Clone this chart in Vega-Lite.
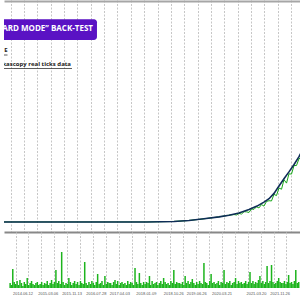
{
"$schema":"https://vega.github.io/schema/vega-lite/v6.json",
"padding":0,
"spacing":0,
"bounds":"flush",
"background":"white",
"datasets":{
"balance":[{"d":"2014-01-20","v":7750},{"d":"2015-06-16","v":7750},{"d":"2016-11-09","v":7750},{"d":"2018-01-23","v":7750},{"d":"2018-10-27","v":8122},{"d":"2019-03-29","v":8874},{"d":"2019-08-30","v":10152},{"d":"2020-01-31","v":11656},{"d":"2020-05-12","v":12934},{"d":"2020-08-22","v":14664},{"d":"2020-12-03","v":17296},{"d":"2021-02-23","v":19928},{"d":"2021-05-05","v":22936},{"d":"2021-06-26","v":25568},{"d":"2021-08-16","v":29704},{"d":"2021-10-06","v":35344},{"d":"2021-11-26","v":40984},{"d":"2022-01-16","v":46248},{"d":"2022-03-09","v":51888},{"d":"2022-04-29","v":57904},{"d":"2022-06-19","v":65424}],
"equity":[{"d":"2014-01-20","v":7750},{"d":"2018-01-23","v":7750},{"d":"2018-10-27","v":8122},{"d":"2019-03-29","v":8874},{"d":"2019-08-30","v":10152},{"d":"2020-01-31","v":11656},{"d":"2020-05-12","v":12934},{"d":"2020-07-02","v":13423},{"d":"2020-07-28","v":13104},{"d":"2020-08-22","v":14288},{"d":"2020-09-17","v":13818},{"d":"2020-10-13","v":15604},{"d":"2020-11-07","v":15510},{"d":"2020-12-03","v":15040},{"d":"2020-12-28","v":17740},{"d":"2021-01-23","v":17439},{"d":"2021-02-18","v":19387},{"d":"2021-03-15","v":18529},{"d":"2021-04-10","v":21109},{"d":"2021-05-05","v":19928},{"d":"2021-05-31","v":23500},{"d":"2021-06-26","v":24064},{"d":"2021-07-21","v":23876},{"d":"2021-08-16","v":28952},{"d":"2021-09-10","v":28012},{"d":"2021-10-06","v":33840},{"d":"2021-11-01","v":32900},{"d":"2021-11-26","v":40232},{"d":"2021-12-22","v":37600},{"d":"2022-01-16","v":44744},{"d":"2022-02-11","v":44556},{"d":"2022-03-09","v":51136},{"d":"2022-04-03","v":51136},{"d":"2022-04-29","v":56400},{"d":"2022-05-24","v":57152},{"d":"2022-06-19","v":64672}],
"load":[
{"d":"2014-02-01","load":5},{"d":"2014-02-16","load":3},{"d":"2014-03-01","load":19},{"d":"2014-03-16","load":6},{"d":"2014-04-01","load":4},{"d":"2014-04-16","load":7},{"d":"2014-05-01","load":3},{"d":"2014-05-16","load":8},{"d":"2014-06-01","load":5},{"d":"2014-06-16","load":2},{"d":"2014-07-01","load":6},{"d":"2014-07-16","load":4},{"d":"2014-08-01","load":10},{"d":"2014-08-16","load":3},{"d":"2014-09-01","load":5},{"d":"2014-09-16","load":7},{"d":"2014-10-01","load":4},{"d":"2014-10-16","load":3},{"d":"2014-11-01","load":5},{"d":"2014-11-16","load":6},{"d":"2014-12-01","load":3},{"d":"2014-12-16","load":4},
{"d":"2015-01-01","load":6},{"d":"2015-01-16","load":3},{"d":"2015-02-01","load":5},{"d":"2015-02-16","load":4},{"d":"2015-03-01","load":7},{"d":"2015-03-16","load":3},{"d":"2015-04-01","load":5},{"d":"2015-04-16","load":8},{"d":"2015-05-01","load":4},{"d":"2015-05-16","load":6},{"d":"2015-06-01","load":18},{"d":"2015-06-16","load":5},{"d":"2015-07-01","load":7},{"d":"2015-07-16","load":4},{"d":"2015-08-01","load":36},{"d":"2015-08-16","load":6},{"d":"2015-09-01","load":3},{"d":"2015-09-16","load":5},{"d":"2015-10-01","load":4},{"d":"2015-10-16","load":10},{"d":"2015-11-01","load":6},{"d":"2015-11-16","load":3},{"d":"2015-12-01","load":5},{"d":"2015-12-16","load":7},
{"d":"2016-01-01","load":4},{"d":"2016-01-16","load":6},{"d":"2016-02-01","load":3},{"d":"2016-02-16","load":7},{"d":"2016-03-01","load":5},{"d":"2016-03-16","load":4},{"d":"2016-04-01","load":26},{"d":"2016-04-16","load":5},{"d":"2016-05-01","load":3},{"d":"2016-05-16","load":6},{"d":"2016-06-01","load":4},{"d":"2016-06-16","load":7},{"d":"2016-07-01","load":5},{"d":"2016-07-16","load":3},{"d":"2016-08-01","load":6},{"d":"2016-08-16","load":14},{"d":"2016-09-01","load":4},{"d":"2016-09-16","load":5},{"d":"2016-10-01","load":7},{"d":"2016-10-16","load":3},{"d":"2016-11-01","load":12},{"d":"2016-11-16","load":4},{"d":"2016-12-01","load":6},{"d":"2016-12-16","load":5},
{"d":"2017-01-01","load":5},{"d":"2017-01-16","load":3},{"d":"2017-02-01","load":6},{"d":"2017-02-16","load":8},{"d":"2017-03-01","load":4},{"d":"2017-03-16","load":7},{"d":"2017-04-01","load":3},{"d":"2017-04-16","load":5},{"d":"2017-05-01","load":6},{"d":"2017-05-16","load":4},{"d":"2017-06-01","load":5},{"d":"2017-06-16","load":3},{"d":"2017-07-01","load":7},{"d":"2017-07-16","load":4},{"d":"2017-08-01","load":6},{"d":"2017-08-16","load":5},{"d":"2017-09-01","load":3},{"d":"2017-09-16","load":20},{"d":"2017-10-01","load":6},{"d":"2017-10-16","load":4},{"d":"2017-11-01","load":15},{"d":"2017-11-16","load":5},{"d":"2017-12-01","load":3},{"d":"2017-12-16","load":6},
{"d":"2018-01-01","load":4},{"d":"2018-01-16","load":6},{"d":"2018-02-01","load":5},{"d":"2018-02-16","load":12},{"d":"2018-03-01","load":3},{"d":"2018-03-16","load":7},{"d":"2018-04-01","load":4},{"d":"2018-04-16","load":5},{"d":"2018-05-01","load":6},{"d":"2018-05-16","load":3},{"d":"2018-06-01","load":5},{"d":"2018-06-16","load":7},{"d":"2018-07-01","load":4},{"d":"2018-07-16","load":10},{"d":"2018-08-01","load":6},{"d":"2018-08-16","load":4},{"d":"2018-09-01","load":5},{"d":"2018-09-16","load":3},{"d":"2018-10-01","load":7},{"d":"2018-10-16","load":5},{"d":"2018-11-01","load":18},{"d":"2018-11-16","load":4},{"d":"2018-12-01","load":6},{"d":"2018-12-16","load":5},
{"d":"2019-01-01","load":5},{"d":"2019-01-16","load":4},{"d":"2019-02-01","load":6},{"d":"2019-02-16","load":3},{"d":"2019-03-01","load":12},{"d":"2019-03-16","load":5},{"d":"2019-04-01","load":7},{"d":"2019-04-16","load":4},{"d":"2019-05-01","load":6},{"d":"2019-05-16","load":9},{"d":"2019-06-01","load":5},{"d":"2019-06-16","load":3},{"d":"2019-07-01","load":6},{"d":"2019-07-16","load":4},{"d":"2019-08-01","load":7},{"d":"2019-08-16","load":5},{"d":"2019-09-01","load":4},{"d":"2019-09-16","load":25},{"d":"2019-10-01","load":6},{"d":"2019-10-16","load":5},{"d":"2019-11-01","load":3},{"d":"2019-11-16","load":7},{"d":"2019-12-01","load":14},{"d":"2019-12-16","load":5},
{"d":"2020-01-01","load":6},{"d":"2020-01-16","load":4},{"d":"2020-02-01","load":5},{"d":"2020-02-16","load":7},{"d":"2020-03-01","load":3},{"d":"2020-03-16","load":6},{"d":"2020-04-01","load":5},{"d":"2020-04-16","load":18},{"d":"2020-05-01","load":4},{"d":"2020-05-16","load":6},{"d":"2020-06-01","load":5},{"d":"2020-06-16","load":7},{"d":"2020-07-01","load":3},{"d":"2020-07-16","load":5},{"d":"2020-08-01","load":6},{"d":"2020-08-16","load":10},{"d":"2020-09-01","load":4},{"d":"2020-09-16","load":7},{"d":"2020-10-01","load":5},{"d":"2020-10-16","load":6},{"d":"2020-11-01","load":4},{"d":"2020-11-16","load":5},{"d":"2020-12-01","load":7},{"d":"2020-12-16","load":4},
{"d":"2021-01-01","load":6},{"d":"2021-01-16","load":16},{"d":"2021-02-01","load":5},{"d":"2021-02-16","load":7},{"d":"2021-03-01","load":4},{"d":"2021-03-16","load":6},{"d":"2021-04-01","load":5},{"d":"2021-04-16","load":8},{"d":"2021-05-01","load":12},{"d":"2021-05-16","load":5},{"d":"2021-06-01","load":7},{"d":"2021-06-16","load":4},{"d":"2021-07-01","load":6},{"d":"2021-07-16","load":22},{"d":"2021-08-01","load":5},{"d":"2021-08-16","load":7},{"d":"2021-09-01","load":23},{"d":"2021-09-16","load":6},{"d":"2021-10-01","load":4},{"d":"2021-10-16","load":5},{"d":"2021-11-01","load":7},{"d":"2021-11-16","load":10},{"d":"2021-12-01","load":6},{"d":"2021-12-16","load":5},
{"d":"2022-01-01","load":5},{"d":"2022-01-16","load":7},{"d":"2022-02-01","load":4},{"d":"2022-02-16","load":6},{"d":"2022-03-01","load":13},{"d":"2022-03-16","load":5},{"d":"2022-04-01","load":6},{"d":"2022-04-16","load":4},{"d":"2022-05-01","load":7},{"d":"2022-05-16","load":18},{"d":"2022-06-01","load":5},{"d":"2022-06-16","load":6}
]
},
"vconcat":[
{
"width":300,"height":232,
"layer":[
{"data":{"name":"equity"},"mark":{"type":"line","color":"#17a817","strokeWidth":1},
"encoding":{
"x":{"field":"d","type":"temporal","scale":{"domain":[{"year":2014,"month":1,"date":20},{"year":2022,"month":6,"date":19}],"nice":false},
"axis":{"orient":"bottom","values":[{"year":2014,"month":3,"date":30},{"year":2014,"month":8,"date":13},{"year":2014,"month":12,"date":28},{"year":2015,"month":5,"date":14},{"year":2015,"month":9,"date":27},{"year":2016,"month":2,"date":11},{"year":2016,"month":6,"date":27},{"year":2016,"month":11,"date":11},{"year":2017,"month":3,"date":27},{"year":2017,"month":8,"date":11},{"year":2017,"month":12,"date":26},{"year":2018,"month":5,"date":11},{"year":2018,"month":9,"date":25},{"year":2019,"month":2,"date":9},{"year":2019,"month":6,"date":25},{"year":2019,"month":11,"date":9},{"year":2020,"month":3,"date":25},{"year":2020,"month":8,"date":8},{"year":2020,"month":12,"date":23},{"year":2021,"month":5,"date":9},{"year":2021,"month":9,"date":22},{"year":2022,"month":2,"date":6}],
"grid":true,"gridColor":"#c6c6c6","gridDash":[2,1.5],"gridWidth":1,"labels":false,"ticks":false,"domain":true,"domainColor":"#888888","domainWidth":2,"title":null}},
"y":{"field":"v","type":"quantitative","scale":{"domain":[0,178462],"nice":false},
"axis":{"tickCount":18,"grid":true,"gridColor":"#d4d4d4","gridWidth":1,"labels":false,"ticks":false,"domain":false,"title":null}}
}},
{"data":{"name":"balance"},"mark":{"type":"line","color":"#0f2d57","strokeWidth":1.6},
"encoding":{
"x":{"field":"d","type":"temporal","axis":{"orient":"top","offset":-1,"labels":false,"ticks":false,"grid":false,"domain":true,"domainColor":"#a6a6a6","domainWidth":2,"title":null}},
"y":{"field":"v","type":"quantitative","axis":null}
}},
{"data":{"values":[{"d":"2013-06-01","d2":"2016-08-29","v":163611,"v2":147689}]},"mark":{"type":"rect","color":"#5a12c4","cornerRadius":3,"clip":true},
"encoding":{
"x":{"field":"d","type":"temporal","axis":null},"x2":{"field":"d2"},
"y":{"field":"v","type":"quantitative","axis":null},"y2":{"field":"v2"}
}},
{"data":{"values":[{"d":"2016-07-19","v":156535,"t":"“HARD MODE” BACK-TEST"}]},"mark":{"type":"text","align":"right","baseline":"middle","font":"Open Sans","fontWeight":"bold","fontSize":8,"color":"#ffffff","clip":true},
"encoding":{"x":{"field":"d","type":"temporal","axis":null},"y":{"field":"v","type":"quantitative","axis":null},"text":{"field":"t"}}},
{"data":{"values":[{"d":"2014-02-25","v":139997,"t":"E"},{"d":"2015-12-07","v":129228,"t":"Dukascopy real ticks data"}]},"mark":{"type":"text","align":"right","baseline":"middle","font":"Open Sans","fontWeight":"bold","fontSize":6,"color":"#222222","clip":true},
"encoding":{"x":{"field":"d","type":"temporal","axis":null},"y":{"field":"v","type":"quantitative","axis":null},"text":{"field":"t"}}},
{"data":{"values":[{"d":"2013-06-01","d2":"2014-02-25","v":136147},{"d":"2013-06-01","d2":"2015-12-17","v":125766}]},"mark":{"type":"rule","color":"#333333","strokeWidth":0.8,"clip":true},
"encoding":{"x":{"field":"d","type":"temporal","axis":null},"x2":{"field":"d2"},"y":{"field":"v","type":"quantitative","axis":null}}}
],
"resolve":{"axis":{"x":"independent"}}
},
{
"width":300,"height":56,
"layer":[
{"data":{"name":"load"},"mark":{"type":"bar","color":"#1db41d","size":1.5},
"encoding":{
"x":{"field":"d","type":"temporal","scale":{"domain":[{"year":2014,"month":1,"date":20},{"year":2022,"month":6,"date":19}],"nice":false},
"axis":{"orient":"bottom","values":[{"year":2014,"month":3,"date":30},{"year":2014,"month":8,"date":13},{"year":2014,"month":12,"date":28},{"year":2015,"month":5,"date":14},{"year":2015,"month":9,"date":27},{"year":2016,"month":2,"date":11},{"year":2016,"month":6,"date":27},{"year":2016,"month":11,"date":11},{"year":2017,"month":3,"date":27},{"year":2017,"month":8,"date":11},{"year":2017,"month":12,"date":26},{"year":2018,"month":5,"date":11},{"year":2018,"month":9,"date":25},{"year":2019,"month":2,"date":9},{"year":2019,"month":6,"date":25},{"year":2019,"month":11,"date":9},{"year":2020,"month":3,"date":25},{"year":2020,"month":8,"date":8},{"year":2020,"month":12,"date":23},{"year":2021,"month":5,"date":9},{"year":2021,"month":9,"date":22},{"year":2022,"month":2,"date":6}],
"grid":true,"gridColor":"#c6c6c6","gridDash":[2,1.5],"gridWidth":1,"labels":false,"ticks":false,"domain":false,"title":null}},
"y":{"field":"load","type":"quantitative","scale":{"domain":[0,56],"nice":false},
"axis":{"values":[3,16,29,42],"grid":true,"gridColor":"#d4d4d4","gridWidth":1,"labels":false,"ticks":false,"domain":false,"title":null}}
}},
{"data":{"name":"load"},"mark":{"type":"bar","color":"#1db41d","size":1.5,"opacity":0},
"encoding":{
"x":{"field":"d","type":"temporal",
"axis":{"orient":"bottom","values":[{"year":2014,"month":6,"date":12},{"year":2015,"month":3,"date":6},{"year":2015,"month":11,"date":13},{"year":2016,"month":7,"date":28},{"year":2017,"month":4,"date":3},{"year":2018,"month":1,"date":9},{"year":2018,"month":10,"date":26},{"year":2019,"month":6,"date":26},{"year":2020,"month":3,"date":21},{"year":2021,"month":3,"date":20},{"year":2021,"month":11,"date":26}],
"format":"%Y.%m.%d","labelFontSize":4,"labelFont":"Liberation Sans","labelColor":"#555555","labelPadding":3,"labelOverlap":false,"labelFlush":false,"ticks":false,"domain":false,"grid":false,"title":null}},
"y":{"field":"load","type":"quantitative","axis":null}
}}
],
"resolve":{"axis":{"x":"independent"}}
}
],
"config":{"view":{"stroke":null},"concat":{"spacing":0}}
}
